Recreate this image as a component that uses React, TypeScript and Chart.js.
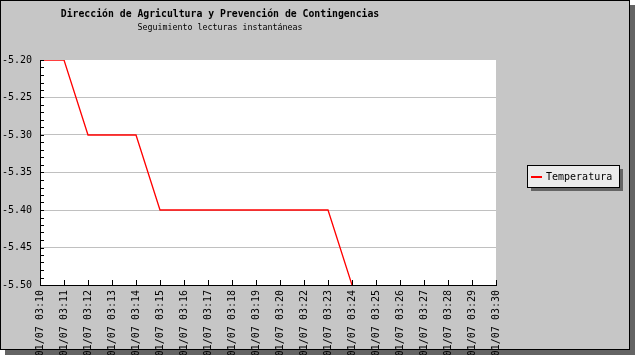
import React, { useEffect, useRef } from "react";
import { Chart, registerables } from "chart.js";

Chart.register(...registerables);

const TITLE = "Dirección de Agricultura y Prevención de Contingencias";
const SUBTITLE = "Seguimiento lecturas instantáneas";
const SERIES_LABEL = "Temperatura";

const categories = [
  "01/07 03:10", "01/07 03:11", "01/07 03:12", "01/07 03:13", "01/07 03:14",
  "01/07 03:15", "01/07 03:16", "01/07 03:17", "01/07 03:18", "01/07 03:19",
  "01/07 03:20", "01/07 03:22", "01/07 03:23", "01/07 03:24", "01/07 03:25",
  "01/07 03:26", "01/07 03:27", "01/07 03:28", "01/07 03:29", "01/07 03:30",
];

const temperatura: (number | null)[] = [
  -5.2, -5.2, -5.3, -5.3, -5.3,
  -5.4, -5.4, -5.4, -5.4, -5.4,
  -5.4, -5.4, -5.4, -5.5, null,
  null, null, null, null, null,
];

const Y_MIN = -5.5;
const Y_MAX = -5.2;
const Y_STEP = 0.05;
const Y_MINOR_STEP = 0.01;

const MONO = "'DejaVu Sans Mono', monospace";
const BG = "#c6c6c6";
const SHADOW = "#646464";

const framePlugin = {
  id: "frame",
  beforeDraw(chart: any) {
    const ctx = chart.ctx;
    const W = chart.width;
    const H = chart.height;
    ctx.save();
    ctx.fillStyle = "#ffffff";
    ctx.fillRect(0, 0, W, H);
    ctx.fillStyle = SHADOW;
    ctx.fillRect(5, 5, W - 5, H - 5);
    ctx.fillStyle = BG;
    ctx.fillRect(0, 0, W - 5, H - 5);
    ctx.strokeStyle = "#000";
    ctx.lineWidth = 1;
    ctx.strokeRect(0.5, 0.5, W - 6, H - 6);
    const a = chart.chartArea;
    ctx.fillStyle = "#ffffff";
    ctx.fillRect(a.left, a.top, a.right - a.left, a.bottom - a.top);
    ctx.fillStyle = "#000";
    ctx.textAlign = "center";
    ctx.textBaseline = "middle";
    ctx.font = `bold 9.8px ${MONO}`;
    ctx.fillText(TITLE, 220, 14);
    ctx.font = `8.3px ${MONO}`;
    ctx.fillText(SUBTITLE, 220, 28);
    ctx.restore();
  },
  afterDraw(chart: any) {
    const ctx = chart.ctx;
    const a = chart.chartArea;
    const ys = chart.scales.y;
    const xs = chart.scales.x;
    ctx.save();
    ctx.strokeStyle = "#000";
    ctx.lineWidth = 1;
    ctx.beginPath();
    const n = Math.round((Y_MAX - Y_MIN) / Y_MINOR_STEP);
    for (let i = 0; i <= n; i++) {
      const v = Y_MIN + i * Y_MINOR_STEP;
      const py = Math.round(ys.getPixelForValue(v)) + 0.5;
      ctx.moveTo(a.left, py);
      ctx.lineTo(a.left + 4, py);
    }
    for (let i = 0; i < categories.length; i++) {
      const px = Math.round(xs.getPixelForValue(i)) + 0.5;
      ctx.moveTo(px, a.bottom);
      ctx.lineTo(px, a.bottom - 5);
    }
    ctx.stroke();

    const lx = 527, ly = 165, lw = 92, lh = 22;
    ctx.fillStyle = SHADOW;
    ctx.fillRect(lx + 4, ly + 4, lw, lh);
    ctx.fillStyle = "#ebebeb";
    ctx.fillRect(lx, ly, lw, lh);
    ctx.strokeStyle = "#000";
    ctx.strokeRect(lx + 0.5, ly + 0.5, lw, lh);
    const ds = chart.data.datasets[0];
    ctx.strokeStyle = ds.borderColor;
    ctx.lineWidth = 2;
    ctx.beginPath();
    ctx.moveTo(lx + 4, ly + 12);
    ctx.lineTo(lx + 15, ly + 12);
    ctx.stroke();
    ctx.fillStyle = "#000";
    ctx.font = `10px ${MONO}`;
    ctx.textAlign = "left";
    ctx.textBaseline = "middle";
    ctx.fillText(ds.label, lx + 19, ly + 12);
    ctx.restore();
  },
};

export default function App() {
  const ref = useRef<HTMLCanvasElement | null>(null);

  useEffect(() => {
    if (!ref.current) return;
    const chart = new Chart(ref.current, {
      type: "line",
      data: {
        labels: categories,
        datasets: [
          {
            label: SERIES_LABEL,
            data: temperatura,
            borderColor: "#ff0000",
            borderWidth: 1.3,
            pointRadius: 0,
            tension: 0,
            fill: false,
          },
        ],
      },
      options: {
        animation: false,
        responsive: false,
        maintainAspectRatio: false,
        layout: { padding: { top: 60, right: 139, left: 0, bottom: 0 } },
        plugins: { legend: { display: false }, tooltip: { enabled: false }, title: { display: false } },
        scales: {
          x: {
            type: "category",
            offset: false,
            afterFit: (s: any) => { s.height = 70; },
            grid: { display: true, drawOnChartArea: false, drawTicks: false },
            border: { display: true, color: "#000", width: 1 },
            ticks: {
              autoSkip: false,
              maxRotation: 90,
              minRotation: 90,
              padding: 5,
              color: "#000",
              font: { family: MONO, size: 10 },
            },
          },
          y: {
            min: Y_MIN,
            max: Y_MAX,
            afterFit: (s: any) => { s.width = 40; },
            grid: {
              drawTicks: false,
              color: (c: any) => (c.tick && Math.abs(c.tick.value - Y_MAX) < 1e-6 ? "rgba(0,0,0,0)" : "#c0c0c0"),
              lineWidth: 1,
            },
            border: { display: true, color: "#000", width: 1 },
            ticks: {
              stepSize: Y_STEP,
              padding: 8,
              color: "#000",
              font: { family: MONO, size: 10 },
              callback: (v: any) => Number(v).toFixed(2),
            },
          },
        },
      },
      plugins: [framePlugin],
    } as any);
    return () => chart.destroy();
  }, []);

  return (
    <div style={{ position: "fixed", left: 0, top: 0, width: 635, height: 355 }}>
      <canvas ref={ref} width={635} height={355} style={{ display: "block" }} />
    </div>
  );
}
